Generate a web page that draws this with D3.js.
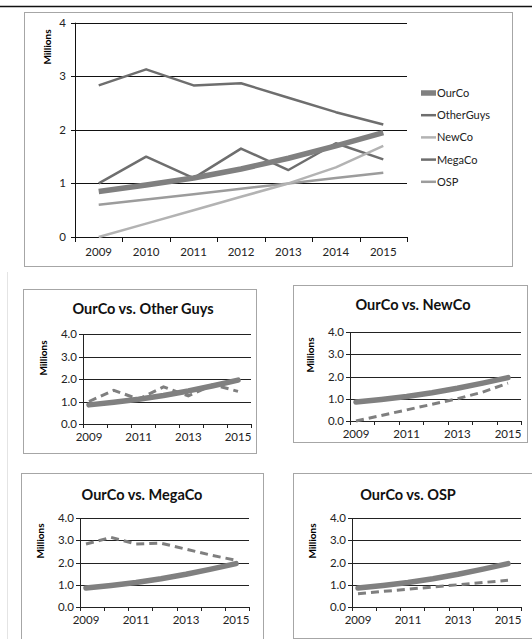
<!DOCTYPE html>
<html>
<head>
<meta charset="utf-8">
<script src="https://cdn.jsdelivr.net/npm/d3@7"></script>
<style>
  body { margin: 0; background: #fff; }
  svg { display: block; font-family: Lato, "Open Sans", sans-serif; }
</style>
</head>
<body>
<div id="chart"></div>
<script>
// data (millions)
var years = ["2009", "2010", "2011", "2012", "2013", "2014", "2015"];
var ourCo = [0.85, 0.97, 1.10, 1.27, 1.47, 1.70, 1.95];
var otherGuys = [1.00, 1.50, 1.10, 1.65, 1.25, 1.75, 1.45];
var newCo = [0.00, 0.25, 0.50, 0.75, 1.00, 1.30, 1.70];
var megaCo = [2.83, 3.13, 2.83, 2.87, 2.60, 2.33, 2.10];
var osp = [0.60, 0.70, 0.80, 0.90, 1.00, 1.10, 1.20];
var yTicks = [0, 1, 2, 3, 4];
var smallLabelYears = ["2009", "2011", "2013", "2015"];

var svg = d3.select("#chart").append("svg")
    .attr("width", 532)
    .attr("height", 639);

// page decorations
svg.append("line").attr("x1", 0).attr("x2", 532).attr("y1", 6.5).attr("y2", 6.5)
    .attr("stroke", "#111").attr("stroke-width", 1.5);
svg.append("line").attr("x1", 7.5).attr("x2", 7.5).attr("y1", 272).attr("y2", 639)
    .attr("stroke", "#e4e4e4");

// ---------- main chart ----------
var mainSeries = [
    { name: "OurCo", values: ourCo, color: "#808080", width: 5.5 },
    { name: "OtherGuys", values: otherGuys, color: "#6e6e6e", width: 2.5 },
    { name: "NewCo", values: newCo, color: "#b3b3b3", width: 2.5 },
    { name: "MegaCo", values: megaCo, color: "#6e6e6e", width: 2.5 },
    { name: "OSP", values: osp, color: "#9c9c9c", width: 2.5 }
];

var main = svg.append("g");
main.append("rect").attr("x", 24.5).attr("y", 12.5).attr("width", 488).attr("height", 254)
    .attr("fill", "#fff").attr("stroke", "#a6a6a6");

var mx = d3.scaleBand().domain(years).range([75, 407]);
var my = d3.scaleLinear().domain([0, 4]).range([237, 22.7]);

// gridlines
main.append("g").selectAll("line").data(yTicks.filter(d => d > 0)).enter().append("line")
    .attr("x1", 75).attr("x2", 407)
    .attr("y1", d => Math.round(my(d)) + 0.5).attr("y2", d => Math.round(my(d)) + 0.5)
    .attr("stroke", "#111");

// y axis
main.append("line").attr("x1", 75.5).attr("x2", 75.5).attr("y1", my(4)).attr("y2", my(0))
    .attr("stroke", "#111");
main.append("g").selectAll("line").data(yTicks).enter().append("line")
    .attr("x1", 71).attr("x2", 75)
    .attr("y1", d => Math.round(my(d)) + 0.5).attr("y2", d => Math.round(my(d)) + 0.5)
    .attr("stroke", "#111");
main.append("g").selectAll("text").data(yTicks).enter().append("text")
    .attr("x", 66).attr("y", d => my(d) + 4)
    .attr("text-anchor", "end").attr("font-size", 11.5).attr("fill", "#222")
    .text(d => d);

// x axis
main.append("line").attr("x1", 75).attr("x2", 407).attr("y1", 237.5).attr("y2", 237.5)
    .attr("stroke", "#111");
var mEdges = years.map(d => mx(d)).concat([407]);
main.append("g").selectAll("line").data(mEdges).enter().append("line")
    .attr("x1", d => Math.round(d) + 0.5).attr("x2", d => Math.round(d) + 0.5)
    .attr("y1", 237).attr("y2", 242)
    .attr("stroke", "#111");
main.append("g").selectAll("text").data(years).enter().append("text")
    .attr("x", d => mx(d) + mx.bandwidth() / 2).attr("y", 256)
    .attr("text-anchor", "middle").attr("font-size", 11.5).attr("fill", "#222")
    .text(d => d);

main.append("text")
    .attr("transform", "translate(51, 47) rotate(-90)")
    .attr("text-anchor", "middle").attr("font-size", 10).attr("font-weight", "bold")
    .text("Millions");

var mLine = d3.line()
    .x((d, i) => mx(years[i]) + mx.bandwidth() / 2)
    .y(d => my(d));

// draw thin lines first, OurCo on top
[3, 1, 4, 2, 0].forEach(function (k) {
    var s = mainSeries[k];
    main.append("path").datum(s.values)
        .attr("d", mLine)
        .attr("fill", "none")
        .attr("stroke", s.color)
        .attr("stroke-width", s.width)
        .attr("stroke-linejoin", "round");
});

// legend
var legend = main.append("g").selectAll("g").data(mainSeries).enter().append("g")
    .attr("transform", (d, i) => `translate(421, ${93 + i * 22.2})`);
legend.append("line").attr("x1", 0).attr("x2", 15).attr("y1", 0).attr("y2", 0)
    .attr("stroke", d => d.color).attr("stroke-width", d => d.width);
legend.append("text").attr("x", 16).attr("y", 4)
    .attr("font-size", 11).attr("fill", "#222")
    .text(d => d.name);

// ---------- small comparison charts ----------
var smallCharts = [
    { title: "OurCo vs. Other Guys", other: otherGuys,
      box: [23, 289, 256, 453], plot: [83, 251, 334, 424], titleX: 143, titleY: 314, millY: 358 },
    { title: "OurCo vs. NewCo", other: newCo,
      box: [293, 285, 527, 442], plot: [350, 521, 332, 421], titleX: 413, titleY: 310, millY: 355 },
    { title: "OurCo vs. MegaCo", other: megaCo,
      box: [21, 473, 263, 650], plot: [80, 249, 518, 607], titleX: 142, titleY: 500, millY: 541 },
    { title: "OurCo vs. OSP", other: osp,
      box: [293, 473, 540, 638], plot: [352, 521, 518, 607], titleX: 408, titleY: 500, millY: 541 }
];

smallCharts.forEach(function (c) {
    var g = svg.append("g");
    var b = c.box, p = c.plot;
    g.append("rect").attr("x", b[0] + 0.5).attr("y", b[1] + 0.5)
        .attr("width", b[2] - b[0]).attr("height", b[3] - b[1])
        .attr("fill", "#fff").attr("stroke", "#a6a6a6");

    g.append("text").attr("x", c.titleX).attr("y", c.titleY)
        .attr("text-anchor", "middle").attr("font-size", 14.5).attr("font-weight", "bold")
        .attr("fill", "#111")
        .text(c.title);

    var band = d3.scaleBand().domain(years).range([p[0], p[1]]);
    var x = d3.scalePoint().domain(years).range([p[0] + 6, p[1] - 13]);
    var y = d3.scaleLinear().domain([0, 4]).range([p[3], p[2]]);

    g.append("g").selectAll("line").data(yTicks.filter(d => d > 0)).enter().append("line")
        .attr("x1", p[0]).attr("x2", p[1])
        .attr("y1", d => Math.round(y(d)) + 0.5).attr("y2", d => Math.round(y(d)) + 0.5)
        .attr("stroke", "#222");

    g.append("line").attr("x1", p[0] + 0.5).attr("x2", p[0] + 0.5).attr("y1", y(4)).attr("y2", y(0))
        .attr("stroke", "#222");
    g.append("g").selectAll("line").data(yTicks).enter().append("line")
        .attr("x1", p[0] - 4).attr("x2", p[0])
        .attr("y1", d => Math.round(y(d)) + 0.5).attr("y2", d => Math.round(y(d)) + 0.5)
        .attr("stroke", "#222");
    g.append("g").selectAll("text").data(yTicks).enter().append("text")
        .attr("x", p[0] - 6).attr("y", d => y(d) + 4)
        .attr("text-anchor", "end").attr("font-size", 11.5).attr("fill", "#222")
        .text(d => d.toFixed(1));

    g.append("line").attr("x1", p[0]).attr("x2", p[1]).attr("y1", p[3] + 0.5).attr("y2", p[3] + 0.5)
        .attr("stroke", "#222");
    var edges = years.map(d => band(d)).concat([p[1]]);
    g.append("g").selectAll("line").data(edges).enter().append("line")
        .attr("x1", d => Math.round(d) + 0.5).attr("x2", d => Math.round(d) + 0.5)
        .attr("y1", p[3]).attr("y2", p[3] + 4)
        .attr("stroke", "#222");
    g.append("g").selectAll("text").data(smallLabelYears).enter().append("text")
        .attr("x", d => x(d)).attr("y", p[3] + 17)
        .attr("text-anchor", "middle").attr("font-size", 11.5).attr("fill", "#222")
        .text(d => d);

    g.append("text")
        .attr("transform", `translate(${p[0] - 36}, ${c.millY}) rotate(-90)`)
        .attr("text-anchor", "middle").attr("font-size", 10).attr("font-weight", "bold")
        .text("Millions");

    var line = d3.line().x((d, i) => x(years[i])).y(d => y(d));

    g.append("path").datum(c.other)
        .attr("d", line)
        .attr("fill", "none").attr("stroke", "#7f7f7f")
        .attr("stroke-width", 3).attr("stroke-dasharray", "8,5");
    g.append("path").datum(ourCo)
        .attr("d", line)
        .attr("fill", "none").attr("stroke", "#808080")
        .attr("stroke-width", 5.5).attr("stroke-linecap", "round").attr("stroke-linejoin", "round");
});
</script>
</body>
</html>
